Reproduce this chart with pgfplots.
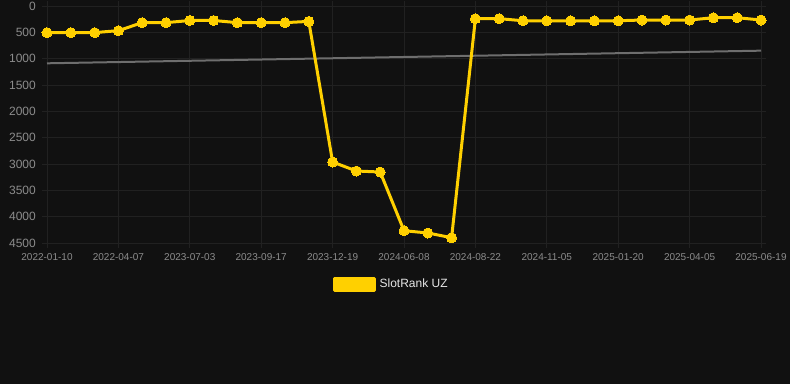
\documentclass[border=0pt]{standalone}
\usepackage{fontspec}
\setmainfont{Liberation Sans}
\usepackage{pgfplots}
\pgfplotsset{compat=1.18}
\definecolor{bgc}{HTML}{111111}
\definecolor{gridc}{HTML}{212121}
\definecolor{tickc}{HTML}{8C8C8C}
\definecolor{yel}{HTML}{FFD000}
\definecolor{trend}{HTML}{6E6E6E}
\definecolor{legtxt}{HTML}{E6E6E6}
\begin{document}
\begin{tikzpicture}[x=1pt,y=1pt]
\fill[bgc] (0,0) rectangle (790,384);
\useasboundingbox (0,0) rectangle (790,384);
\begin{axis}[
  at={(47pt,141pt)}, anchor=south west,
  scale only axis, width=714pt, height=237pt,
  xmin=0, xmax=30, ymin=0, ymax=4500,
  y dir=reverse,
  clip=false,
  axis line style={draw=none},
  xtick={0,3,...,30},
  xticklabels={2022-01-10,2022-04-07,2023-07-03,2023-09-17,2023-12-19,2024-06-08,2024-08-22,2024-11-05,2025-01-20,2025-04-05,2025-06-19},
  ytick={0,500,...,4500},
  grid=major,
  major grid style={draw=gridc, line width=0.8pt},
  tick align=outside,
  major tick length=5pt,
  tick style={draw=gridc, line width=0.8pt},
  /pgf/number format/assume math mode=true,
  /pgf/number format/set thousands separator={},
  xticklabel style={font=\fontsize{10}{12}\selectfont, text=tickc, inner sep=0pt, yshift=-5pt},
  yticklabel style={font=\fontsize{12}{14}\selectfont, text=tickc, inner sep=0pt, xshift=-6pt},
  legend style={at={(0.482,-0.173)}, anchor=center, draw=none, fill=none,
    font=\fontsize{12}{14}\selectfont, text=legtxt, inner sep=0pt},
  legend cell align=left,
  legend image code/.code={\fill[yel] (0pt,-6pt) rectangle (40pt,6pt);},
]
\addplot[trend, line width=2pt, forget plot] coordinates {(0,1088) (30,848)};
\addplot[yel, line width=3pt, line join=round, mark=*, mark size=5pt, mark options={fill=yel, draw=none, line width=0pt}] coordinates {
(0,505) (1,505) (2,505) (3,468) (4,316) (5,316) (6,275) (7,275) (8,316) (9,316) (10,316) (11,292)
(12,2962) (13,3133) (14,3152) (15,4266) (16,4310) (17,4399)
(18,240) (19,240) (20,280) (21,280) (22,280) (23,280) (24,280) (25,266) (26,266) (27,266) (28,222) (29,222) (30,266)
};
\addlegendentry{\hspace{2pt}SlotRank UZ}
\end{axis}
\end{tikzpicture}
\end{document}
